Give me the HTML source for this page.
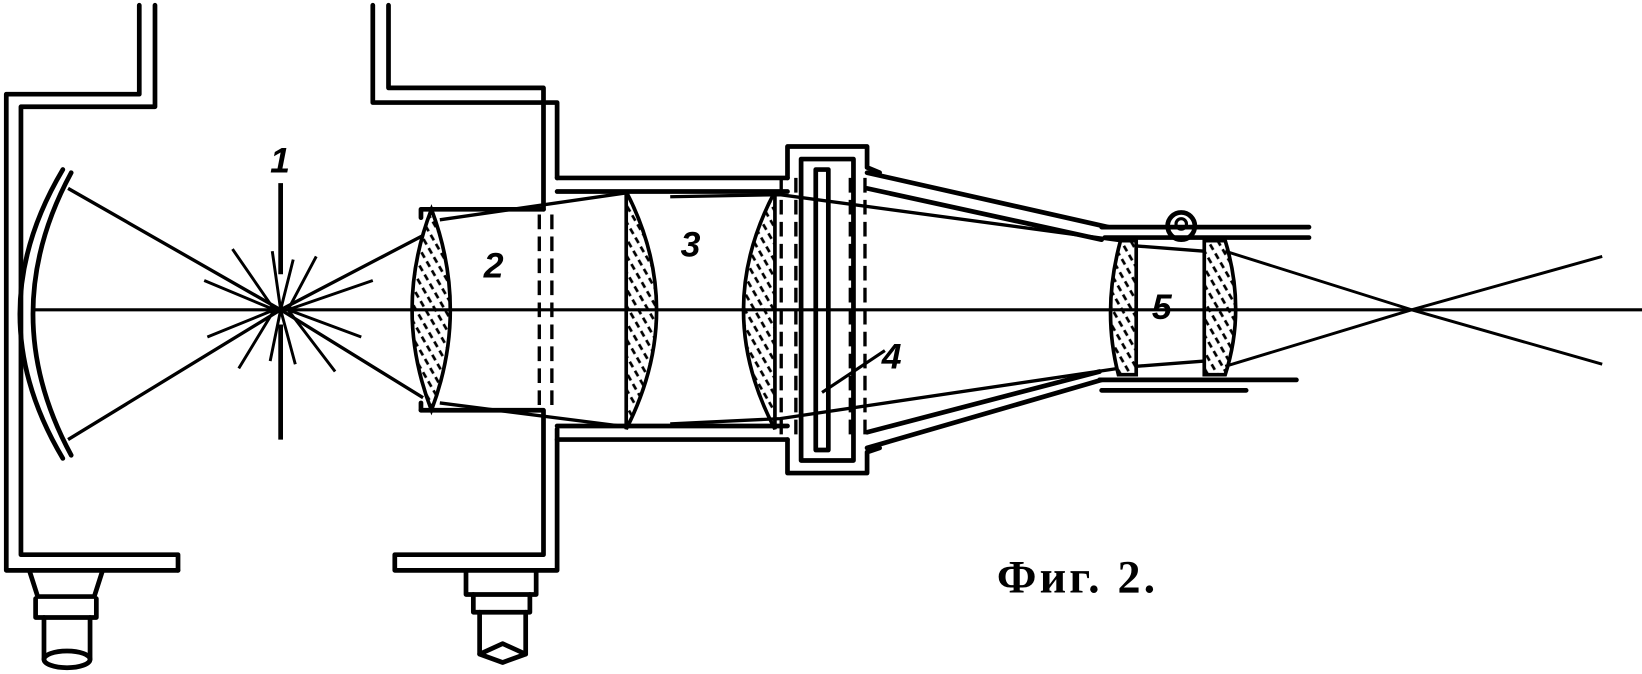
<!DOCTYPE html>
<html><head><meta charset="utf-8"><style>
html,body{margin:0;padding:0;background:#fff;width:1642px;height:674px;overflow:hidden}
svg{display:block}
</style></head><body>
<svg width="1642" height="674" viewBox="0 0 1568 644" preserveAspectRatio="none" xmlns="http://www.w3.org/2000/svg">
<defs>
<pattern id="h" width="8" height="10" patternUnits="userSpaceOnUse" patternTransform="rotate(-30)">
<line x1="4" y1="0" x2="4" y2="6" stroke="#000" stroke-width="2.6"/>
</pattern>
</defs>
<rect width="1568" height="644" fill="#fff"/>
<g fill="none" stroke="#000" stroke-width="4.5" stroke-linejoin="round" stroke-linecap="round">
<path d="M133,5 V90 H6 V545 H170"/>
<path d="M148,5 V102 H20 V530 H170 V545"/>
<path d="M356,5 V98 H532 V170"/>
<path d="M371,5 V84 H519 V200"/>
<path d="M402,200 H519 M402,208 V200"/>
<path d="M402,392 H519 V530 H377 V545 H532 V410"/>
<path d="M402,392 V385"/>
<path d="M28,545 L36,570 H90 L98,545"/>
<path d="M34,572 V590 H92 V572"/>
<path d="M42,590 V630 M86,590 V630"/>
<ellipse cx="64" cy="630" rx="22" ry="8"/>
<path d="M445,545 V568 H512 V545"/>
<path d="M452,568 V585 H506 V568"/>
<path d="M458,585 V625 M502,585 V625"/>
<path d="M458,625 L480,615 L502,625 L480,633 Z"/>
<path d="M532,170 H752 M532,183 H752"/>
<path d="M532,407 H752 M532,420 H752"/>
<path d="M752,170 V140 H828 V160 L840,165"/>
<path d="M752,420 V452 H828 V432 L840,428"/>
<path d="M765,152 H815 V440 H765 Z"/>
<rect x="779" y="162" width="12" height="268"/>
<path d="M828,165 L1058,217 M828,180 L1052,229"/>
<path d="M828,428 L1052,363 M828,413 L1050,355"/>
<path d="M1052,217 H1250 M1055,227 H1250"/>
<path d="M1050,363 H1238 M1052,373 H1190"/>
<circle cx="1128" cy="216" r="13"/>
<circle cx="1128" cy="214" r="5" stroke-width="3"/>
<path d="M68,165 Q-5,300 68,435"/>
<path d="M60,162 Q-22,300 60,438"/>
</g>
<g stroke="#000" stroke-width="3.5" fill="url(#h)">
<path d="M412,200 Q375,296 412,392 Q448,296 412,200 Z"/>
<path d="M598,183 Q656,296 598,410 Z"/>
<path d="M740,183 Q680,296 740,410 Z"/>
<path d="M1070,230 Q1052,296 1068,358 L1085,358 V230 Z"/>
<path d="M1150,230 V358 H1170 Q1190,296 1170,230 Z"/>
</g>
<g fill="none" stroke="#000" stroke-width="3.2">
<path d="M515,205 V390 M527,205 V390" stroke-dasharray="14,7"/>
<path d="M746,170 V420 M760,170 V420 M812,170 V420 M826,170 V420" stroke-dasharray="14,7"/>
<path d="M30,296 H1568" stroke-width="3"/>
<path d="M65,180 L268,296 L65,420"/>
<path d="M404,225 L268,296 L404,380"/>
<path d="M420,210 L600,184 M420,385 L600,408"/>
<path d="M640,188 L745,186 L1070,230 M640,405 L745,400 L1068,352"/>
<path d="M1085,235 L1150,240 M1085,350 L1150,345"/>
<path d="M1170,240 L1348,296 L1530,245 M1170,350 L1348,296 L1530,348" stroke-width="2.8"/>
<path d="M268,175 V262 M268,310 V420" stroke-width="4.5"/>
<path d="M262,296 L222,238 M262,296 L195,268 M262,296 L198,322 M262,296 L228,352 M275,296 L302,245 M275,296 L356,268 M275,296 L345,322 M275,296 L320,355 M268,296 L260,240 M268,296 L280,248 M268,296 L258,345 M268,296 L282,348" stroke-width="2.8"/>
<path d="M785,375 L845,335" stroke-width="3"/>
</g>
<g font-family="Liberation Sans, sans-serif" font-weight="bold" font-style="italic" font-size="34" fill="#000">
<text x="258" y="165">1</text>
<text x="462" y="265">2</text>
<text x="650" y="245">3</text>
<text x="842" y="352">4</text>
<text x="1100" y="305">5</text>
</g>
<text x="952" y="566" font-family="Liberation Serif, serif" font-size="44" font-weight="bold" letter-spacing="3" fill="#000">Фиг. 2.</text>
</svg>
</body></html>
